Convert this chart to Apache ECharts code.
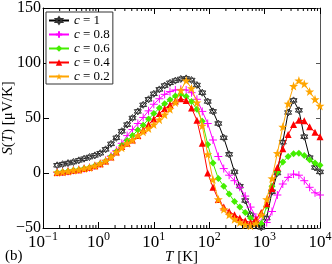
<!DOCTYPE html>
<html>
<head>
<meta charset="utf-8">
<script src="https://cdn.jsdelivr.net/npm/echarts@6/dist/echarts.min.js"></script>
<style>html,body{margin:0;padding:0;background:#fff}#c{width:332px;height:264px}</style>
</head>
<body>
<div id="c"></div>
<script>
// Temperature grid (K)
const T = [0.18,0.226,0.283,0.354,0.443,0.552,0.69,0.863,1.08,1.35,1.69,2.11,2.64,3.3,4.12,5.15,6.43,8.04,10,12.6,15.7,19.6,24.5,30.7,38.4,48,60,75,94,117,146,183,229,286,357,447,558,697,871,1090,1360,1700,2130,2660,3330,4160,5200,6500,8130,10000];
// Seebeck coefficient S(T) [μV/K] for each c
const S_c1  = [7,8,9,10,11.5,13,14.5,16,18,21.5,26.5,32,38,44,50,56,62,67,72,76,79.5,82,84,85.5,86,84.5,80,73,65,56,45,32,17,1,-12,-25,-38,-47,-49.5,-41,-17,0,28,55,66,57,33,14,5,1];
const S_c08 = [0.5,1,1.5,2.5,3,4,5,6.5,8.5,11.5,15.5,20.5,27,34,39.5,45,50.5,56.5,62.5,67.5,71.5,74,75.5,76,75.5,73,67,56,45,30,15,4,-2,-7,-13,-21,-31,-40,-45,-45,-35,-20,-10,-4,-1,-2,-7,-13,-18,-20];
const S_c06 = [0.5,1,1.5,2.5,3,4,5,6.5,8.5,11,15,19.5,25,29.5,34,39,43.5,49,54,59,63,66.5,70,71.5,69.5,65,58,47,26,9,-5,-12,-19,-26,-31,-36,-41,-45,-46,-30,-12,1,10,15,17.5,18,16,12,9,7];
const S_c04 = [0.5,1,1.5,2.5,3,4,5,6.5,8.5,11,14.5,19,24,27,30,34,39,44,49,54,58.5,62,65.5,67.5,66,59,48,27,0,-13,-24,-31,-35,-38,-41,-43.5,-45,-42,-36,-28,-14,5,22,35,44,48,47.5,42,37,33];
const S_c02 = [0.5,1,1.5,2.5,3,4,5,6.5,8.5,11,14.5,19,23,27,30,34,37.5,40.5,44,48.5,53,58,64,75,84,77,64,43,17,-6,-24,-33,-38,-42,-45,-47,-48,-46,-38,-24,-5,18,42,63,79,84,81,74,67,61];
const seriesNames = ['c = 1','c = 0.8','c = 0.6','c = 0.4','c = 0.2'];
const minorTickValues = [0.2,0.3,0.4,0.5,0.6,0.7,0.8,0.9,2,3,4,5,6,7,8,9,20,30,40,50,60,70,80,90,200,300,400,500,600,700,800,900,2000,3000,4000,5000,6000,7000,8000,9000];

const SERIF = 'Liberation Serif';
const hexagram = 'path://M0,-10L8.66,5L-8.66,5Z M0,10L8.66,-5L-8.66,-5Z';
const star5 = 'path://M0,-10L2.35,-3.24L9.51,-3.09L3.8,1.24L5.88,8.09L0,4L-5.88,8.09L-3.8,1.24L-9.51,-3.09L-2.35,-3.24Z';
const plus = 'path://M0,-10L0,10M-10,0L10,0';

function pairs(ys){ return T.map((t,i)=>[t, ys[i]]); }

const styles = [
  {data:S_c1, color:'#000', symbol:hexagram, size:7, item:{color:'#fff', borderColor:'#333', borderWidth:1}},
  {data:S_c08, color:'#ff00ff', symbol:plus, size:8, item:{color:'#ff00ff', borderColor:'#ff00ff', borderWidth:1}},
  {data:S_c06, color:'#44ee00', symbol:'diamond', size:7, item:{color:'#44ee00'}},
  {data:S_c04, color:'#ff0000', symbol:'triangle', size:7, item:{color:'#ff0000'}},
  {data:S_c02, color:'#ffa500', symbol:star5, size:9, item:{color:'#ffa500'}}
];

const series = styles.map((s,k)=>({
  name: seriesNames[k], type:'line', data: pairs(s.data),
  symbol: s.symbol, symbolSize: s.size, showSymbol:true,
  lineStyle:{color:s.color, width:1}, itemStyle:s.item, color:s.color,
  animation:false, z: 2+k
}));

series.push({
  type:'custom', silent:true, animation:false, z:10,
  data: minorTickValues.map(v=>[v,0]),
  encode:{x:0,y:1},
  renderItem:(params, api)=>{
    const v = api.value(0);
    const pb = api.coord([v,-50]);
    const pt = api.coord([v,150]);
    return {type:'group', children:[
      {type:'line', shape:{x1:pb[0],y1:pb[1],x2:pb[0],y2:pb[1]-3}, style:{stroke:'#000', lineWidth:1}},
      {type:'line', shape:{x1:pt[0],y1:pt[1],x2:pt[0],y2:pt[1]+3}, style:{stroke:'#000', lineWidth:1}}
    ]};
  }
});

const supMap = e => (e<0 ? '\u2212'+(-e) : ''+e);

const chart = echarts.init(document.getElementById('c'), null, {renderer:'canvas'});
chart.setOption({
  animation:false,
  backgroundColor:'#fff',
  grid:{left:43, right:12, top:8, bottom:36, containLabel:false, outerBoundsMode:'none'},
  legend:{
    data: seriesNames, orient:'vertical', left:46, top:12,
    backgroundColor:'#fff', borderColor:'#333', borderWidth:1, borderRadius:0,
    padding:[2,3,1,2], itemGap:1, itemWidth:20, itemHeight:8,
    formatter: n => '{i|c}' + n.slice(1),
    textStyle:{fontFamily:SERIF, fontSize:13, lineHeight:10, color:'#000', rich:{i:{fontFamily:SERIF, fontSize:13, lineHeight:10, fontStyle:'italic', color:'#000'}}}
  },
  xAxis:[
    {type:'log', logBase:10, min:0.1, max:10000, position:'bottom', splitNumber:5,
     axisLine:{show:true, onZero:false, lineStyle:{color:'#000', width:1}},
     axisTick:{show:true, inside:true, length:6, lineStyle:{color:'#000'}},
     splitLine:{show:false},
     axisLabel:{margin:3, color:'#000',
       formatter: v => '{b|10}{s|' + supMap(Math.round(Math.log10(v))) + '}',
       rich:{b:{fontFamily:SERIF, fontSize:17, color:'#000', lineHeight:24}, s:{fontFamily:SERIF, fontSize:12, color:'#000', verticalAlign:'top'}}},
     name:'{i|T} [K]', nameLocation:'middle', nameGap:22, nameMoveOverlap:false,
     nameTextStyle:{fontFamily:SERIF, fontSize:15, color:'#000', rich:{i:{fontFamily:SERIF, fontSize:15, fontStyle:'italic', color:'#000'}}}
    },
    {type:'log', logBase:10, min:0.1, max:10000, position:'top', splitNumber:5,
     axisLine:{show:true, onZero:false, lineStyle:{color:'#000', width:1}},
     axisTick:{show:true, inside:true, length:6, lineStyle:{color:'#000'}},
     axisLabel:{show:false}, splitLine:{show:false}}
  ],
  yAxis:[
    {type:'value', min:-50, max:150, interval:50, position:'left',
     axisLine:{show:true, onZero:false, lineStyle:{color:'#000', width:1}},
     axisTick:{show:true, inside:true, length:6, lineStyle:{color:'#000'}},
     splitLine:{show:false},
     axisLabel:{margin:2, color:'#000', fontFamily:SERIF, fontSize:16,
       formatter: v => (v<0 ? '\u2212'+(-v) : ''+v)},
     name:'{i|S}({i|T}) [\u03bcV/K]', nameLocation:'middle', nameGap:27, nameRotate:90, nameMoveOverlap:false,
     nameTextStyle:{fontFamily:SERIF, fontSize:15, color:'#000', rich:{i:{fontFamily:SERIF, fontSize:15, fontStyle:'italic', color:'#000'}}}
    },
    {type:'value', min:-50, max:150, interval:50, position:'right',
     axisLine:{show:true, onZero:false, lineStyle:{color:'#555', width:1}},
     axisTick:{show:true, inside:true, length:4, lineStyle:{color:'#555'}},
     axisLabel:{show:false}, splitLine:{show:false}}
  ],
  graphic:[{type:'text', left:5, top:249, style:{text:'(b)', font:'15px "Liberation Serif"', fill:'#000'}}],
  series: series
});
</script>
</body>
</html>
